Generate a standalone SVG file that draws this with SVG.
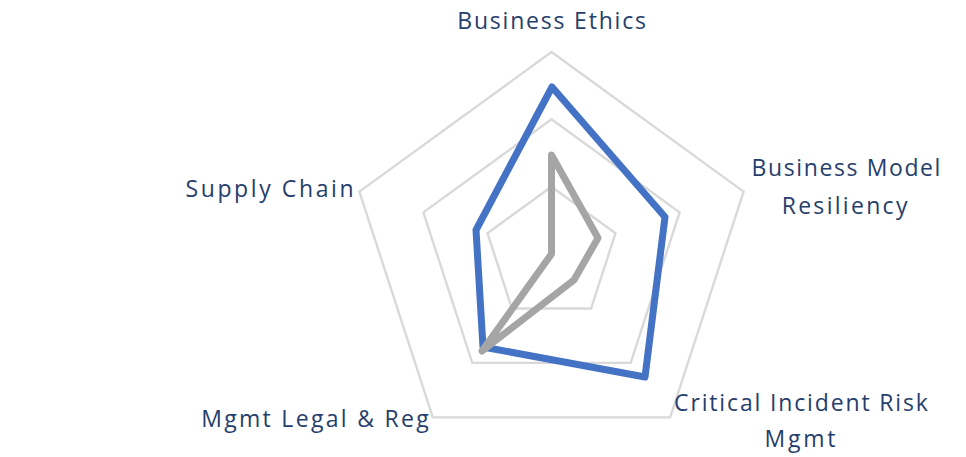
<svg xmlns="http://www.w3.org/2000/svg" width="966" height="457" viewBox="0 0 966 457">
<style>
.grid{fill:none;stroke:#D9D9D9;stroke-width:2.4}
.s1{fill:none;stroke:#4472C4;stroke-width:7;stroke-linejoin:round;stroke-linecap:round}
.s2{fill:none;stroke:#A5A5A5;stroke-width:7;stroke-linejoin:round;stroke-linecap:round}
.lbl{font-family:"Open Sans","Liberation Sans",sans-serif;font-size:23px;fill:#263E6C;text-anchor:middle}
</style>
<rect width="966" height="457" fill="#FFFFFF"/>
<g id="grid">
<polygon class="grid" points="551.5,52 743.6,191.6 670.2,417.4 432.8,417.4 359.4,191.6"/>
<polygon class="grid" points="551.5,119.3 679.6,212.4 630.7,362.9 472.3,362.9 423.4,212.4"/>
<polygon class="grid" points="551.5,186.7 615.5,233.2 591.1,308.5 511.9,308.5 487.5,233.2"/>
</g>
<g id="series">
<polygon id="series-blue" class="s1" points="552,87 665,217 645,377 483,347 476,230"/>
<polygon id="series-gray" class="s2" points="551.5,155 598,238 574,280 482,351 551.5,254"/>
</g>
<g id="labels">
<g id="label-business-ethics"><text class="lbl" x="552.5" y="29" letter-spacing="1.8">Business Ethics</text></g>
<g id="label-business-model"><text class="lbl" x="846.8" y="176" letter-spacing="1.6">Business Model</text><text class="lbl" x="845.7" y="214" letter-spacing="2.3">Resiliency</text></g>
<g id="label-critical"><text class="lbl" x="801.9" y="411" letter-spacing="1.85">Critical Incident Risk</text><text class="lbl" x="801.4" y="447" letter-spacing="2.8">Mgmt</text></g>
<g id="label-legal"><text class="lbl" x="316.1" y="427" letter-spacing="2.3">Mgmt Legal &amp; Reg</text></g>
<g id="label-supply"><text class="lbl" x="270.8" y="197" letter-spacing="2.6">Supply Chain</text></g>
</g>
</svg>
